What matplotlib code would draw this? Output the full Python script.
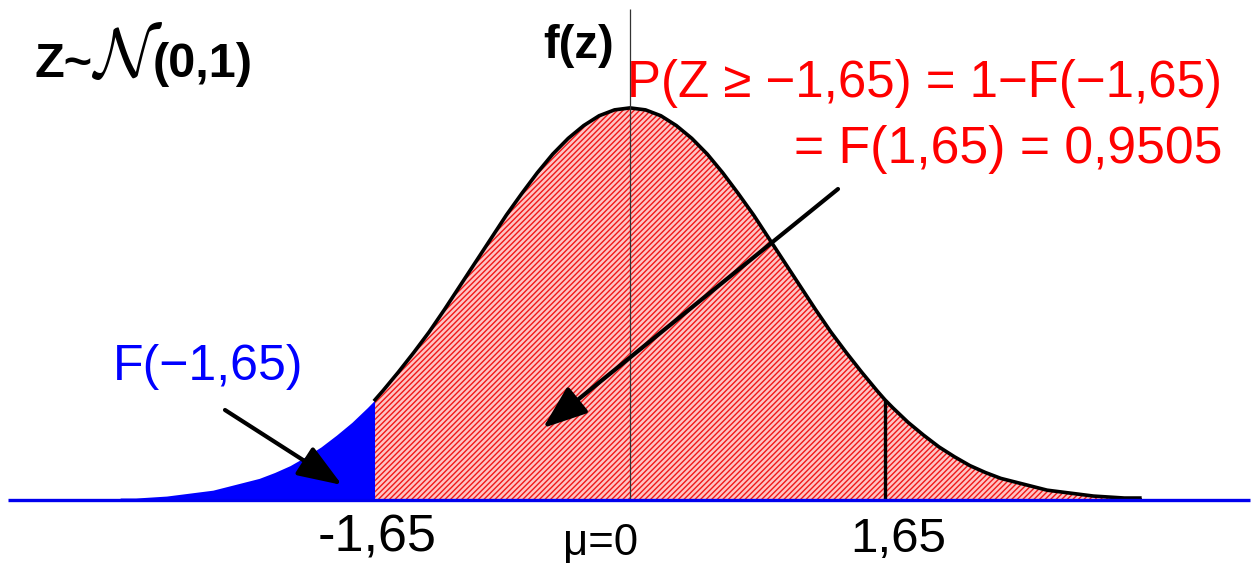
import matplotlib
matplotlib.use("Agg")
import matplotlib.pyplot as plt

# ---- data ----
z = [-3.3, -3.2, -3.1, -3.0, -2.9, -2.8, -2.7, -2.6, -2.5, -2.4, -2.3, -2.2,
     -2.1, -2.0, -1.9, -1.8, -1.7, -1.65,
     -1.6, -1.5, -1.4, -1.3, -1.2, -1.1, -1.0, -0.9, -0.8, -0.7, -0.6, -0.5,
     -0.4, -0.3, -0.2, -0.1, 0.0, 0.1, 0.2, 0.3, 0.4, 0.5, 0.6, 0.7, 0.8,
     0.9, 1.0, 1.1, 1.2, 1.3, 1.4, 1.5, 1.6,
     1.65, 1.7, 1.8, 1.9, 2.0, 2.1, 2.2, 2.3, 2.4, 2.5, 2.6, 2.7, 2.8, 2.9,
     3.0, 3.1, 3.2, 3.3]
density = [0.002, 0.002, 0.003, 0.004, 0.006, 0.008, 0.010, 0.014, 0.018,
           0.022, 0.028, 0.035, 0.044, 0.054, 0.066, 0.079, 0.094, 0.102,
           0.111, 0.130, 0.150, 0.171, 0.194, 0.218, 0.242, 0.266, 0.290,
           0.312, 0.333, 0.352, 0.368, 0.381, 0.391, 0.397, 0.399, 0.397,
           0.391, 0.381, 0.368, 0.352, 0.333, 0.312, 0.290, 0.266, 0.242,
           0.218, 0.194, 0.171, 0.150, 0.130, 0.111,
           0.102, 0.094, 0.079, 0.066, 0.054, 0.044, 0.035, 0.028, 0.022,
           0.018, 0.014, 0.010, 0.008, 0.006, 0.004, 0.003, 0.002, 0.002]
z_lower = -1.65
z_upper = 1.65
tick_labels = ["-1,65", "\u03bc=0", "1,65"]

plt.rcParams['mathtext.fontset'] = 'cm'
plt.rcParams['hatch.linewidth'] = 1.0

W, H = 1259, 564
fig = plt.figure(figsize=(W / 100, H / 100), dpi=100)
ax = fig.add_axes([0, 0, 1, 1])
ax.axis('off')

X0, SX, Y0, SY = 630.0, 154.5, 500.0, 982.7
ax.set_xlim(-X0 / SX, (W - X0) / SX)
ax.set_ylim(-(H - Y0) / SY, Y0 / SY)


def P(px, py):
    return ((px - X0) / SX, (Y0 - py) / SY)


i_lo = z.index(z_lower)
i_hi = z.index(z_upper)

# blue tail
ax.fill_between(z[:i_lo + 1], 0, density[:i_lo + 1], color='#0000ff',
                linewidth=0, zorder=2)
# red hatched body
ax.fill_between(z[i_lo:], 0, density[i_lo:], facecolor='#ffc4c4',
                edgecolor='#f01818', hatch='//////', linewidth=0, zorder=2)
# outline
ax.plot(z[i_lo:], density[i_lo:], color='black', lw=2.6, zorder=4,
        solid_joinstyle='round')
ax.vlines(z[-1], 0, density[-1], color='black', lw=2.6, zorder=4)
ax.vlines(z[i_hi], 0, density[i_hi], color='black', lw=2.4, zorder=4)

# center axis line
ax.vlines(0, 0, P(0, 9)[1], color='#333333', lw=0.9, zorder=5)
# baseline
ax.hlines(0, P(8, 0)[0], P(1250, 0)[0], color='#0000ee', lw=2.4, zorder=5)

font = 'Liberation Sans'
# titles
ax.text(*P(35, 77), 'Z~', fontsize=35, fontweight='bold',
        family=font, ha='left', va='baseline', color='black')
ax.text(*P(91, 77), r'$\mathcal{N}$', fontsize=50,
        ha='left', va='baseline', color='black')
ax.text(*P(153, 77), '(0,1)', fontsize=35, fontweight='bold',
        family=font, ha='left', va='baseline', color='black')
ax.text(*P(543, 58), 'f(z)', fontsize=34, fontweight='bold', family=font,
        ha='left', va='baseline', color='black')
ax.text(*P(1222, 97), 'P(Z \u2265 \u22121,65) = 1\u2212F(\u22121,65)',
        fontsize=36.7, family=font, ha='right', va='baseline', color='#ff0000')
ax.text(*P(1222, 163), '= F(1,65) = 0,9505', fontsize=37.3, family=font,
        ha='right', va='baseline', color='#ff0000')
ax.text(*P(113, 380), 'F(\u22121,65)', fontsize=36, family=font,
        ha='left', va='baseline', color='#0000ff')

# tick-like labels
ax.text(*P(318, 552), tick_labels[0], fontsize=37.5, family=font,
        ha='left', va='baseline', color='black')
ax.text(*P(563, 555), tick_labels[1], fontsize=31.5, family=font,
        ha='left', va='baseline', color='black')
ax.text(*P(850, 552), tick_labels[2], fontsize=35.5, family=font,
        ha='left', va='baseline', color='black')

# arrows
ap = dict(arrowstyle='-|>,head_length=0.4,head_width=0.15', lw=3,
          color='black', mutation_scale=68, shrinkA=0, shrinkB=0)
ax.annotate('', xy=P(342, 485), xytext=P(225, 410), arrowprops=ap, zorder=6)
ax.annotate('', xy=P(543, 428), xytext=P(838, 189), arrowprops=ap, zorder=6)

fig.savefig('out.png', dpi=100)
